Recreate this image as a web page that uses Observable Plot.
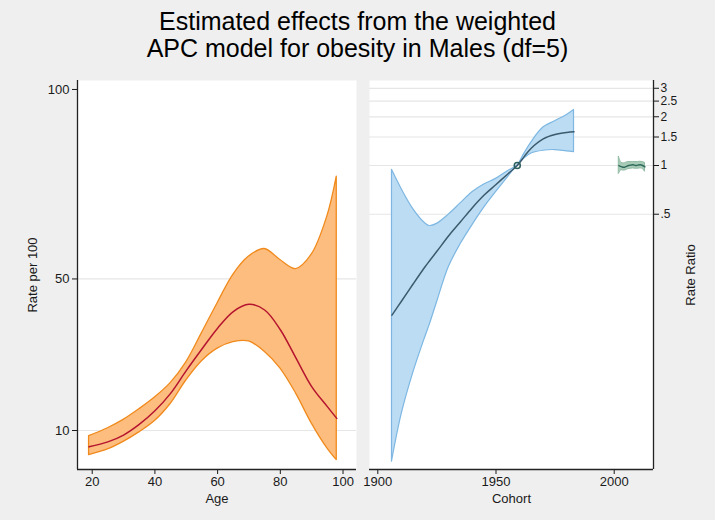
<!DOCTYPE html>
<html>
<head>
<meta charset="utf-8">
<script src="https://cdn.jsdelivr.net/npm/d3@7"></script>
<script src="https://cdn.jsdelivr.net/npm/@observablehq/plot@0.6"></script>
<style>
  html, body { margin: 0; padding: 0; background: #efefef; }
  #wrap { position: relative; width: 715px; height: 520px; background: #efefef; overflow: hidden; }
  #title { position: absolute; left: 0; top: 8px; width: 715px; text-align: center;
           font-family: "Liberation Sans", Arial, sans-serif; font-size: 25px; line-height: 27px; color: #000; }
  .panel { position: absolute; top: 0; }
</style>
</head>
<body>
<div id="wrap">
  <div id="title">Estimated effects from the weighted<br>APC model for obesity in Males (df=5)</div>
  <div id="left" class="panel" style="left:0px"></div>
  <div id="right" class="panel" style="left:362px"></div>
</div>
<script>
// ---- Age effect (rate per 100) ----
const ages      = [19, 25, 30, 35, 40, 45, 50, 55, 60, 65, 70, 75, 80, 85, 90, 95, 98];
const ageRate   = [5.7, 7.0, 8.8, 11.6, 15.2, 19.8, 25.8, 31.5, 37.0, 41.4, 43.3, 41.8, 36.6, 29.1, 21.6, 16.3, 13.2];
const ageUpper  = [8.5, 10.6, 12.8, 15.6, 18.7, 22.5, 28.0, 35.7, 43.6, 51.1, 55.9, 57.9, 55.0, 52.6, 56.4, 66.5, 77.0];
const ageLower  = [3.5, 5.0, 7.0, 9.5, 12.5, 17.0, 23.2, 28.3, 31.6, 33.3, 33.5, 30.8, 26.4, 19.8, 11.9, 5.3, 2.2];

// ---- Cohort effect (rate ratio, ref 1959) ----
const cohorts     = [1906, 1910, 1915, 1920, 1922, 1925, 1930, 1935, 1940, 1945, 1950, 1955, 1959, 1962, 1965, 1970, 1975, 1980, 1983];
const cohortRR    = [0.119, 0.145, 0.186, 0.237, 0.259, 0.295, 0.368, 0.449, 0.549, 0.657, 0.763, 0.887, 1, 1.139, 1.284, 1.462, 1.553, 1.600, 1.616];
const cohortUpper = [0.94, 0.719, 0.538, 0.440, 0.423, 0.436, 0.497, 0.583, 0.684, 0.763, 0.827, 0.923, 1, 1.185, 1.391, 1.716, 1.878, 2.054, 2.203];
const cohortLower = [0.0148, 0.0287, 0.0523, 0.0863, 0.104, 0.142, 0.235, 0.326, 0.427, 0.549, 0.684, 0.844, 1, 1.105, 1.185, 1.234, 1.246, 1.221, 1.209];
const cohortRef   = [1959];

// ---- Period effect (rate ratio) ----
const periods     = [2002, 2003, 2004, 2005, 2006, 2007, 2008, 2009, 2010, 2011, 2012, 2013];
const periodRR    = [1.00, 0.985, 0.975, 0.985, 1.00, 1.005, 1.01, 1.00, 1.005, 1.01, 1.00, 0.98];
const periodUpper = [1.13, 1.04, 1.03, 1.04, 1.05, 1.05, 1.05, 1.05, 1.05, 1.055, 1.05, 1.04];
const periodLower = [0.89, 0.935, 0.93, 0.935, 0.95, 0.955, 0.96, 0.955, 0.955, 0.96, 0.955, 0.915];

// ---- Tick labels ----
const ageTicks    = [20, 40, 60, 80, 100];
const rateTicks   = [10, 50, 100];
const rateGrid    = [10, 50];
const cohortTicks = [1900, 1950, 2000];
const rrTicks     = [0.5, 1, 1.5, 2, 2.5, 3];

const FONT = "'Liberation Sans', Arial, Helvetica, sans-serif";
const INK = "#1a1a1a";
const baseStyle = {background: "transparent", fontSize: "13px", fontFamily: FONT, color: INK, overflow: "visible"};

const ageData    = ages.map((a, i) => ({a, r: ageRate[i], lo: ageLower[i], hi: ageUpper[i]}));
const cohortData = cohorts.map((c, i) => ({c, r: cohortRR[i], lo: cohortLower[i], hi: cohortUpper[i]}));
const periodData = periods.map((p, i) => ({p, r: periodRR[i], lo: periodLower[i], hi: periodUpper[i]}));

const xAgeDom = [15.31, 104.3];
const yRateDom = [-0.29, 102.37];

const left = Plot.plot({
  width: 360, height: 520,
  marginTop: 80, marginBottom: 51, marginLeft: 77, marginRight: 4,
  style: baseStyle,
  x: {domain: xAgeDom, ticks: ageTicks, tickSize: 5, tickPadding: 2, label: null},
  y: {domain: yRateDom, ticks: rateTicks, tickSize: 5, tickPadding: 3, label: null, tickFormat: d => String(d)},
  marks: [
    Plot.frame({fill: "white", stroke: null}),
    Plot.ruleY(rateGrid, {stroke: "#e6e6e6", strokeWidth: 1.2}),
    Plot.areaY(ageData, {x: "a", y1: "lo", y2: "hi", fill: "#fdbd7f", stroke: "#f08a1c", strokeWidth: 1.3, curve: "catmull-rom"}),
    Plot.lineY(ageData, {x: "a", y: "r", stroke: "#b5142f", strokeWidth: 1.5, curve: "catmull-rom"}),
    Plot.ruleX([xAgeDom[0]], {stroke: "#222", strokeWidth: 1.3}),
    Plot.ruleY([yRateDom[0]], {stroke: "#222", strokeWidth: 1.3}),
    Plot.text(["Age"], {text: d => d, frameAnchor: "bottom", lineAnchor: "middle", textAnchor: "middle", dy: 29, fontSize: 13, fill: INK}),
    Plot.text(["Rate per 100"], {text: d => d, frameAnchor: "left", lineAnchor: "middle", textAnchor: "middle", dx: -45, rotate: -90, fontSize: 13, fill: INK})
  ]
});
document.getElementById("left").appendChild(left);

const xCohDom = [1896.49, 2016.62];
const yRRDom = [0.01324, 3.351];

const right = Plot.plot({
  width: 353, height: 520,
  marginTop: 80, marginBottom: 51, marginLeft: 7, marginRight: 62,
  style: baseStyle,
  x: {domain: xCohDom, ticks: cohortTicks, tickSize: 5, tickPadding: 2, label: null, tickFormat: d => String(d)},
  y: {type: "log", domain: yRRDom, label: null, axis: null},
  marks: [
    Plot.frame({fill: "white", stroke: null}),
    Plot.ruleY(rrTicks, {stroke: "#e6e6e6", strokeWidth: 1.2}),
    Plot.areaY(cohortData, {x: "c", y1: "lo", y2: "hi", fill: "#bcdcf3", stroke: "#7db7e2", strokeWidth: 1.2, curve: "catmull-rom"}),
    Plot.lineY(cohortData, {x: "c", y: "r", stroke: "#3b5a6c", strokeWidth: 1.5, curve: "catmull-rom"}),
    Plot.dot(cohortRef, {x: d => d, y: () => 1, r: 3, stroke: "#2d5f5f", strokeWidth: 1.5, fill: "none"}),
    Plot.areaY(periodData, {x: "p", y1: "lo", y2: "hi", fill: "#a8cbb8", stroke: "#8fbba3", strokeWidth: 1, curve: "catmull-rom"}),
    Plot.lineY(periodData, {x: "p", y: "r", stroke: "#2f6a5a", strokeWidth: 1.4, curve: "catmull-rom"}),
    Plot.axisY({anchor: "right", ticks: rrTicks, tickSize: 5, tickPadding: 2, fontSize: 12, label: null,
                tickFormat: d => d === 0.5 ? ".5" : String(d)}),
    Plot.ruleX([xCohDom[1]], {stroke: "#222", strokeWidth: 1.3}),
    Plot.ruleY([yRRDom[0]], {stroke: "#222", strokeWidth: 1.3}),
    Plot.text(["Cohort"], {text: d => d, frameAnchor: "bottom", lineAnchor: "middle", textAnchor: "middle", dy: 29, fontSize: 13, fill: INK}),
    Plot.text(["Rate Ratio"], {text: d => d, frameAnchor: "right", lineAnchor: "middle", textAnchor: "middle", dx: 37, rotate: -90, fontSize: 13, fill: INK})
  ]
});
document.getElementById("right").appendChild(right);
</script>
</body>
</html>
